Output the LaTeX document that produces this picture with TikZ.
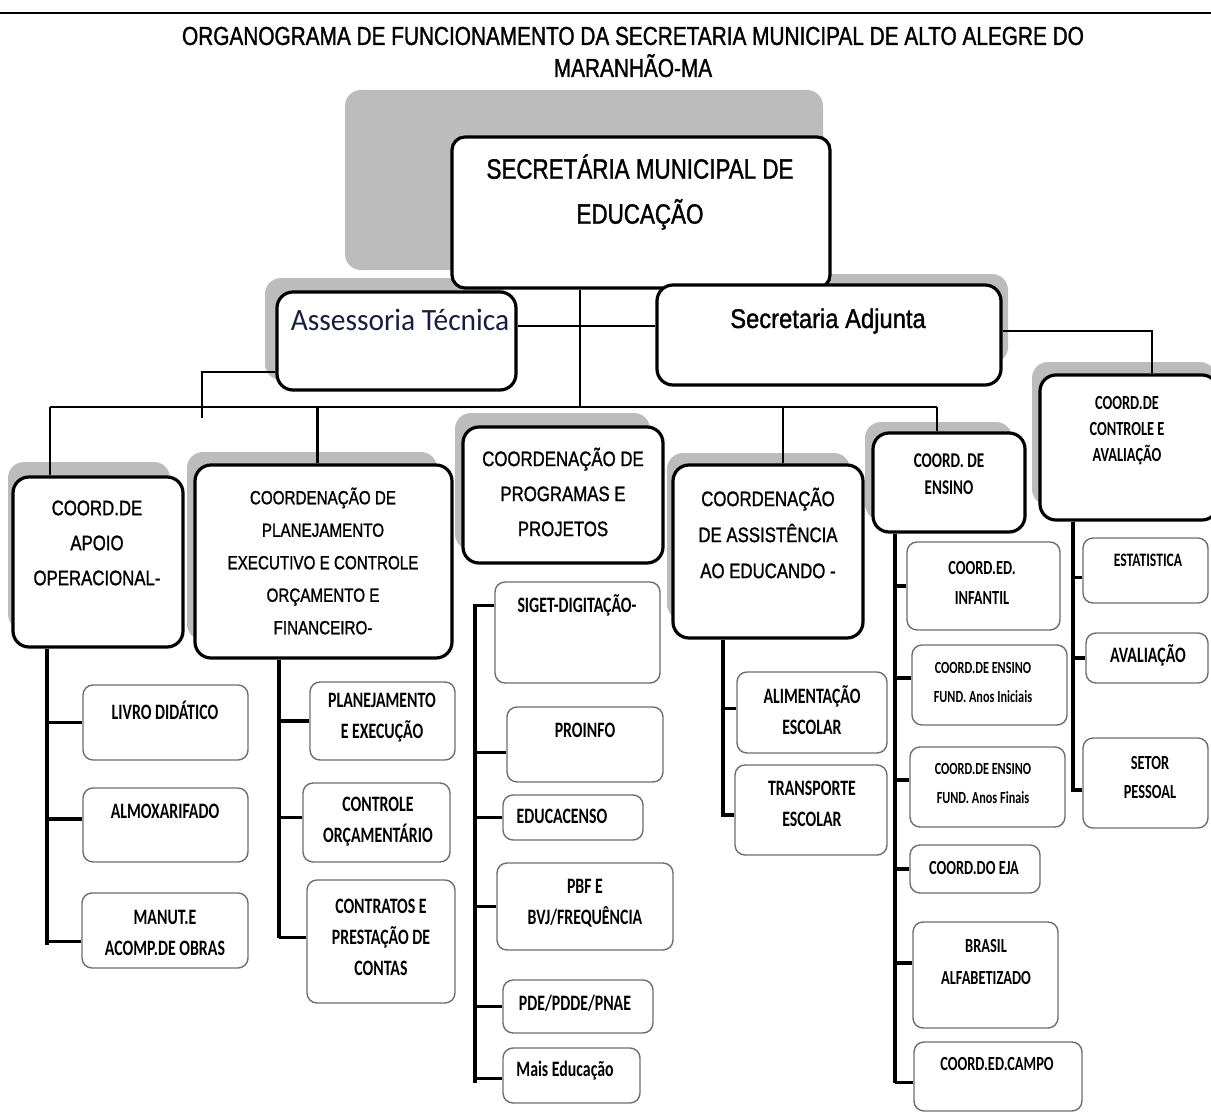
\documentclass[tikz,border=0pt]{standalone}
\usepackage{fontspec}
\setmainfont{Liberation Sans}
\newfontfamily\comic[FakeStretch=0.8,FakeBold=1.2]{Liberation Sans}
\newfontfamily\comicw[FakeStretch=0.88,FakeBold=1.2]{Liberation Sans}
\newfontfamily\calb[FakeStretch=0.72]{Carlito}
\newfontfamily\calr[FakeStretch=0.95]{Carlito}
\usetikzlibrary{calc}
\definecolor{shad}{RGB}{188,188,188}
\definecolor{sbord}{RGB}{110,110,110}
\definecolor{navy}{RGB}{25,30,60}
\tikzset{
 bigbox/.style={draw=black, line width=3.2pt, rounded corners=16pt, fill=white, inner sep=0pt},
 topbox/.style={draw=black, line width=3.2pt, rounded corners=13pt, fill=white, inner sep=0pt},
 smallbox/.style={draw=sbord, line width=1.4pt, rounded corners=10pt, fill=white, inner sep=0pt},
 shadowbox/.style={fill=shad, rounded corners=16pt},
 conn/.style={line width=2.6pt, black},
 branch/.style={line width=3.4pt, black},
 ctext/.style={align=center, inner sep=0pt, font=\comic\fontsize{21}{35}\selectfont},
 ktext/.style={align=center, inner sep=0pt, font=\calb\bfseries\fontsize{21}{27}\selectfont},
 stext/.style={align=center, inner sep=0pt, font=\calb\bfseries\fontsize{22}{31}\selectfont},
 sstext/.style={align=center, inner sep=0pt, font=\calb\bfseries\fontsize{17}{29}\selectfont},
}
\newcommand\mkbox[6]{\node[#1,minimum width={(#4)-(#2)},minimum height={(#5)-(#3)}] (#6) at ({((#2)+(#4))/2},{((#3)+(#5))/2}) {};}
\begin{document}
\begin{tikzpicture}[x=1pt,y=-1pt]
\fill[white] (0,0) rectangle (1211,1113);
\useasboundingbox (0,0) rectangle (1211,1113);
% top rule
\draw[line width=2.5pt] (0,13) -- (1211,13);
% title
\node[font=\comic\fontsize{26}{32}\selectfont, align=center, inner sep=0pt] (title) at (633,52) {ORGANOGRAMA DE FUNCIONAMENTO DA SECRETARIA MUNICIPAL DE ALTO ALEGRE DO\\MARANHÃO-MA};
% shadows
\fill[shadowbox] (345,90) rectangle (823,270);
\fill[shadowbox] (265,278) rectangle (504,380);
\fill[shadowbox] (671,274) rectangle (1008,363);
\fill[shadowbox] (8,462) rectangle (170,630);
\fill[shadowbox] (187,452) rectangle (437,640);
\fill[shadowbox] (455,413) rectangle (650,550);
\fill[shadowbox] (667,453) rectangle (850,620);
\fill[shadowbox] (865,422) rectangle (1012,520);
\fill[shadowbox] (1032,362) rectangle (1216,505);
% boxes
\mkbox{topbox}{452}{137}{830}{288}{top}
\mkbox{bigbox}{277}{292}{516}{390}{assess}
\mkbox{bigbox}{657}{285}{1001}{385}{sadj}
\mkbox{bigbox}{13}{477}{183}{647}{apoio}
\mkbox{bigbox}{195}{465}{452}{658}{planej}
\mkbox{bigbox}{463}{427}{663}{563}{prog}
\mkbox{bigbox}{673}{465}{863}{638}{assist}
\mkbox{bigbox}{873}{433}{1025}{532}{ensino}
\mkbox{bigbox}{1040}{375}{1218}{520}{ctrl}
\mkbox{smallbox}{83}{685}{248}{760}{livro}
\mkbox{smallbox}{83}{788}{248}{862}{almox}
\mkbox{smallbox}{82}{893}{248}{968}{manut}
\mkbox{smallbox}{310}{682}{455}{760}{planex}
\mkbox{smallbox}{303}{783}{450}{862}{ctrlorc}
\mkbox{smallbox}{307}{880}{455}{1003}{contr}
\mkbox{smallbox}{495}{582}{660}{683}{siget}
\mkbox{smallbox}{507}{707}{663}{782}{proinfo}
\mkbox{smallbox}{503}{795}{643}{840}{educ}
\mkbox{smallbox}{497}{863}{673}{950}{pbf}
\mkbox{smallbox}{503}{980}{653}{1033}{pde}
\mkbox{smallbox}{503}{1048}{640}{1103}{mais}
\mkbox{smallbox}{737}{672}{887}{753}{alim}
\mkbox{smallbox}{735}{765}{887}{855}{transp}
\mkbox{smallbox}{907}{542}{1060}{630}{infantil}
\mkbox{smallbox}{912}{645}{1067}{725}{anosini}
\mkbox{smallbox}{910}{747}{1065}{827}{anosfin}
\mkbox{smallbox}{910}{845}{1040}{893}{eja}
\mkbox{smallbox}{913}{922}{1058}{1028}{brasil}
\mkbox{smallbox}{914}{1042}{1082}{1111}{campo}
\mkbox{smallbox}{1083}{538}{1208}{603}{estat}
\mkbox{smallbox}{1086}{633}{1208}{683}{aval}
\mkbox{smallbox}{1083}{738}{1208}{828}{setor}
% connectors
\coordinate (busL) at (50,407);
\coordinate (busR) at (937,407);
\coordinate (stub) at (202,418);
\coordinate (apoioEnd) at (47,945);
\coordinate (planEnd) at (279,938);
\coordinate (progEnd) at (475,1083);
\coordinate (assistEnd) at (723,817);
\coordinate (ensEnd) at (895,1083);
\coordinate (ctrlEnd) at (1073,792);
\draw[conn] (busL) -- (busR);
\draw[conn] ([xshift=-61pt]top.south) -- ([xshift=-61pt]top.south |- busL);
\draw[conn] ([yshift=15pt]assess.east) -- ([yshift=15pt]assess.east -| sadj.west);
\draw[conn] ([yshift=-31pt]assess.west) -| (stub);
\draw[conn] ([yshift=4pt]sadj.east) -| ([xshift=23pt]ctrl.north);
\draw[conn] (busL) -- (busL |- apoio.north);
\draw[conn] ([xshift=-6pt]planej.north |- busL) -- ([xshift=-6pt]planej.north);
\draw[conn] ([xshift=15pt]assist.north |- busL) -- ([xshift=15pt]assist.north);
\draw[conn] (busR) -- (busR |- ensino.north);
% verticals
\draw[branch] (apoio.south -| apoioEnd) -- (apoioEnd);
\draw[branch] (planej.south -| planEnd) -- (planEnd);
\draw[branch] ([yshift=27pt]siget.west) -| (progEnd);
\draw[branch] (assist.south -| assistEnd) -- (assistEnd);
\draw[branch] (ensino.south -| ensEnd) -- (ensEnd);
\draw[branch] (ctrl.south -| ctrlEnd) -- (ctrlEnd);
% branches
\draw[branch] (livro.west) -- (livro.west -| apoioEnd);
\draw[branch] ([yshift=6pt]almox.west) -- ([yshift=6pt]almox.west -| apoioEnd);
\draw[branch] ([yshift=-11pt]manut.west) -- ([yshift=-11pt]manut.west -| apoioEnd);
\draw[branch] (planex.west) -- (planex.west -| planEnd);
\draw[branch] ([yshift=5pt]ctrlorc.west) -- ([yshift=5pt]ctrlorc.west -| planEnd);
\draw[branch] ([yshift=4pt]contr.west) -- ([yshift=4pt]contr.west -| planEnd);
\draw[branch] ([yshift=-8pt]proinfo.west) -- ([yshift=-8pt]proinfo.west -| progEnd);
\draw[branch] (educ.west) -- (educ.west -| progEnd);
\draw[branch] (pbf.west) -- (pbf.west -| progEnd);
\draw[branch] (pde.west) -- (pde.west -| progEnd);
\draw[branch] ([yshift=-3pt]mais.west) -- ([yshift=-3pt]mais.west -| progEnd);
\draw[branch] ([yshift=4pt]alim.west) -- ([yshift=4pt]alim.west -| assistEnd);
\draw[branch] ([yshift=-5pt]transp.west) -- ([yshift=-5pt]transp.west -| assistEnd);
\draw[branch] (infantil.west) -- (infantil.west -| ensEnd);
\draw[branch] ([yshift=7pt]anosini.west) -- ([yshift=7pt]anosini.west -| ensEnd);
\draw[branch] ([yshift=7pt]anosfin.west) -- ([yshift=7pt]anosfin.west -| ensEnd);
\draw[branch] (eja.west) -- (eja.west -| ensEnd);
\draw[branch] ([yshift=12pt]brasil.west) -- ([yshift=12pt]brasil.west -| ensEnd);
\draw[branch] ([yshift=-6pt]campo.west) -- ([yshift=-6pt]campo.west -| ensEnd);
\draw[branch] ([yshift=-7pt]estat.west) -- ([yshift=-7pt]estat.west -| ctrlEnd);
\draw[branch] (aval.west) -- (aval.west -| ctrlEnd);
\draw[branch] ([yshift=-7pt]setor.west) -- ([yshift=-7pt]setor.west -| ctrlEnd);
% texts
\node[font=\comic\fontsize{28}{45}\selectfont, align=center, inner sep=0pt] (ttop) at (640,192) {SECRETÁRIA MUNICIPAL DE\\EDUCAÇÃO};
\node[font=\calr\fontsize{31}{36}\selectfont, text=navy, inner sep=0pt] (tassess) at (400,320) {Assessoria Técnica};
\node[font=\comicw\fontsize{27}{30}\selectfont, inner sep=0pt] (tsadj) at (828,321) {Secretaria Adjunta};
\node[ctext] (tapoio) at (97,543) {COORD.DE\\APOIO\\OPERACIONAL-};
\node[ctext, font=\comic\fontsize{19}{32.5}\selectfont] (tplanej) at (323,561) {COORDENAÇÃO DE\\PLANEJAMENTO\\EXECUTIVO E CONTROLE\\ORÇAMENTO E\\FINANCEIRO-};
\node[ctext] (tprog) at (563,492) {COORDENAÇÃO DE\\PROGRAMAS E\\PROJETOS};
\node[ctext, font=\comic\fontsize{21}{36}\selectfont] (tassist) at (768,533) {COORDENAÇÃO\\DE ASSISTÊNCIA\\AO EDUCANDO -};
\node[ktext] (tensino) at (949,474) {COORD. DE\\ENSINO};
\node[ktext, font=\calb\bfseries\fontsize{20}{26}\selectfont] (tctrl) at (1127,431) {COORD.DE\\CONTROLE E\\AVALIAÇÃO};
\node[stext] (tlivro) at (165,710) {LIVRO DIDÁTICO};
\node[stext] (talmox) at (165,811) {ALMOXARIFADO};
\node[stext] (tmanut) at (165,933) {MANUT.E\\ACOMP.DE OBRAS};
\node[stext] (tplanex) at (382,718) {PLANEJAMENTO\\E EXECUÇÃO};
\node[stext] (tctrlorc) at (378,822) {CONTROLE\\ORÇAMENTÁRIO};
\node[stext] (tcontr) at (381,937) {CONTRATOS E\\PRESTAÇÃO DE\\CONTAS};
\node[stext] (tsiget) at (577,605) {SIGET-DIGITAÇÃO-};
\node[stext] (tproinfo) at (585,730) {PROINFO};
\node[stext] (teduc) at (562,816) {EDUCACENSO};
\node[stext] (tpbf) at (585,903) {PBF E\\BVJ/FREQUÊNCIA};
\node[stext] (tpde) at (575,1003) {PDE/PDDE/PNAE};
\node[stext] (tmais) at (565,1071) {Mais Educação};
\node[stext] (talim) at (812,710) {ALIMENTAÇÃO\\ESCOLAR};
\node[stext] (ttransp) at (812,804) {TRANSPORTE\\ESCOLAR};
\node[stext, font=\calb\bfseries\fontsize{20}{30}\selectfont] (tinf) at (982,583) {COORD.ED.\\INFANTIL};
\node[sstext] (tini) at (983,682) {COORD.DE ENSINO\\FUND. Anos Iniciais};
\node[sstext] (tfin) at (983,783) {COORD.DE ENSINO\\FUND. Anos Finais};
\node[stext, font=\calb\bfseries\fontsize{20}{30}\selectfont] (teja) at (974,868) {COORD.DO EJA};
\node[stext, font=\calb\bfseries\fontsize{20}{32}\selectfont] (tbrasil) at (986,962) {BRASIL\\ALFABETIZADO};
\node[stext, font=\calb\bfseries\fontsize{20}{30}\selectfont] (tcampo) at (997,1064) {COORD.ED.CAMPO};
\node[stext, font=\calb\bfseries\fontsize{19}{30}\selectfont] (testat) at (1148,560) {ESTATISTICA};
\node[stext] (taval) at (1148,655) {AVALIAÇÃO};
\node[stext, font=\calb\bfseries\fontsize{20}{29}\selectfont] (tsetor) at (1150,778) {SETOR\\PESSOAL};
\end{tikzpicture}
\end{document}
